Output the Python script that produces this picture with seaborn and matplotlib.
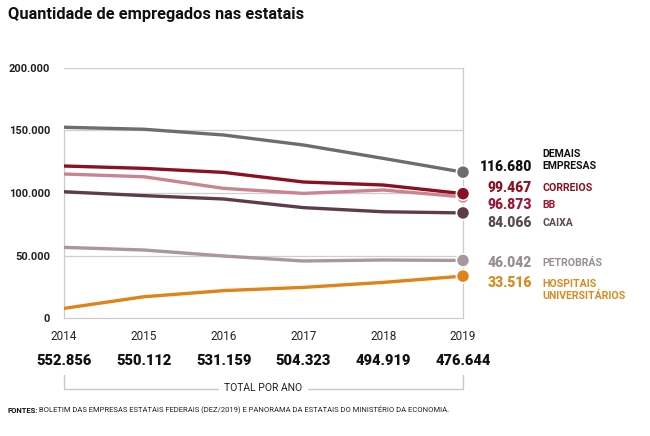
import matplotlib
matplotlib.use("Agg")
import matplotlib.pyplot as plt
import matplotlib.transforms as mtransforms
import seaborn as sns
import pandas as pd

years = [2014, 2015, 2016, 2017, 2018, 2019]
demais = [152600, 151000, 146400, 138400, 127700, 116680]
correios = [121600, 119700, 116500, 108800, 106400, 99467]
bb = [115200, 113000, 103700, 99700, 102400, 96873]
caixa = [101000, 97900, 95200, 88300, 85000, 84066]
petrobras = [56500, 54400, 49600, 45600, 46400, 46042]
hospitais = [7700, 17000, 21900, 24500, 28500, 33516]
totals = [552856, 550112, 531159, 504323, 494919, 476644]
series_names = ["DEMAIS\nEMPRESAS", "CORREIOS", "BB", "CAIXA", "PETROBRÁS", "HOSPITAIS\nUNIVERSITÁRIOS"]
series_values = [demais, correios, bb, caixa, petrobras, hospitais]
yticks = [0, 50000, 100000, 150000, 200000]
title = "Quantidade de empregados nas estatais"
footer_bold = "FONTES:"
footer_text = " BOLETIM DAS EMPRESAS ESTATAIS FEDERAIS (DEZ/2019) E PANORAMA DA ESTATAIS DO MINISTÉRIO DA ECONOMIA."

line_colors = ["#6d6d6d", "#8c0f22", "#c98490", "#5e3d48", "#a8979b", "#e0841a"]
value_colors = ["#111111", "#8c0f22", "#9e1535", "#5b4a4e", "#9a8e90", "#d98a1e"]
name_colors = ["#111111", "#8c0f22", "#9e1535", "#5b4a4e", "#9a8e90", "#d98a1e"]
# label y positions (layout, data units)
value_y = [120800, 104200, 90400, 76200, 44200, 27800]
name_y = [126400, 104200, 90400, 76200, 44200, 22400]


def fmt(v):
    return f"{v:,}".replace(",", ".")


sns.set_theme(style="white")
plt.rcParams["font.family"] = ["Roboto", "DejaVu Sans"]

rows = []
for name, vals in zip(series_names, series_values):
    for y, v in zip(years, vals):
        rows.append({"ano": y, "serie": name, "valor": v})
df = pd.DataFrame(rows)
palette = dict(zip(series_names, line_colors))

fig = plt.figure(figsize=(6.5, 4.36), dpi=100)
ax = fig.add_axes([64 / 650, 1 - 318 / 436, 399 / 650, 250 / 436])

for yv in yticks[1:]:
    ax.axhline(yv, color="#cfcfcf", lw=0.9, zorder=0)

sns.lineplot(data=df, x="ano", y="valor", hue="serie", palette=palette,
             linewidth=2.4, legend=False, ax=ax, zorder=3)
last = df[df["ano"] == years[-1]].iloc[::-1]
sns.scatterplot(data=last, x="ano", y="valor", hue="serie", palette=palette,
                s=90, edgecolor="white", linewidth=1.2, legend=False, ax=ax,
                zorder=5, clip_on=False)

ax.set_xlim(years[0], years[-1])
ax.set_ylim(0, 200000)
ax.set_xlabel("")
ax.set_ylabel("")
ax.set_yticks(yticks)
ax.set_yticklabels([fmt(v) for v in yticks], fontsize=8, fontweight="bold", color="#222222")
ax.set_xticks(years)
ax.set_xticklabels([str(y) for y in years], fontsize=8.5, color="#222222")
ax.tick_params(axis="y", length=0, pad=10)
ax.tick_params(axis="x", length=5, direction="in", color="#bbbbbb", pad=9, width=0.8)

ax.spines["top"].set_visible(False)
for s in ["left", "right", "bottom"]:
    ax.spines[s].set_color("#cccccc")
    ax.spines[s].set_linewidth(0.9)
ax.spines["left"].set_bounds(0, 150000)
ax.grid(False)

tr = mtransforms.blended_transform_factory(ax.transAxes, ax.transData)
for i in range(len(series_names)):
    ax.text(1.173, value_y[i], fmt(series_values[i][-1]), transform=tr,
            ha="right", va="center", fontsize=10, fontweight="heavy",
            color=value_colors[i], clip_on=False)
    ax.text(1.198, name_y[i], series_names[i], transform=tr,
            ha="left", va="center", fontsize=7.6, fontweight="bold",
            color=name_colors[i], linespacing=1.35, clip_on=False)

# totals row
trx = mtransforms.blended_transform_factory(ax.transData, ax.transAxes)
for y, t in zip(years, totals):
    ax.text(y, -0.172, fmt(t), transform=trx, ha="center", va="center",
            fontsize=10.5, fontweight="heavy", color="#111111", clip_on=False)

# bracket
ax.plot([years[0], years[0], years[-1], years[-1]], [-0.228, -0.284, -0.284, -0.228],
        transform=trx, color="#c8c8c8", lw=1.0, clip_on=False)
ax.text((years[0] + years[-1]) / 2, -0.281, "TOTAL POR ANO", transform=trx,
        ha="center", va="center", fontsize=7.5, color="#222222",
        bbox=dict(facecolor="white", edgecolor="none", pad=4), clip_on=False)

fig.text(8 / 650, 1 - 15 / 436, title, ha="left", va="center",
         fontsize=11.8, fontweight="bold", color="#111111")

t1 = fig.text(7 / 650, 1 - 410 / 436, footer_bold, ha="left", va="center",
              fontsize=5.5, fontweight="bold", color="#111111")
fig.canvas.draw()
bb1 = t1.get_window_extent()
fig.text(bb1.x1 / 650, 1 - 410 / 436, footer_text, ha="left", va="center",
         fontsize=5.5, color="#222222")

fig.savefig("out.png", dpi=100)
